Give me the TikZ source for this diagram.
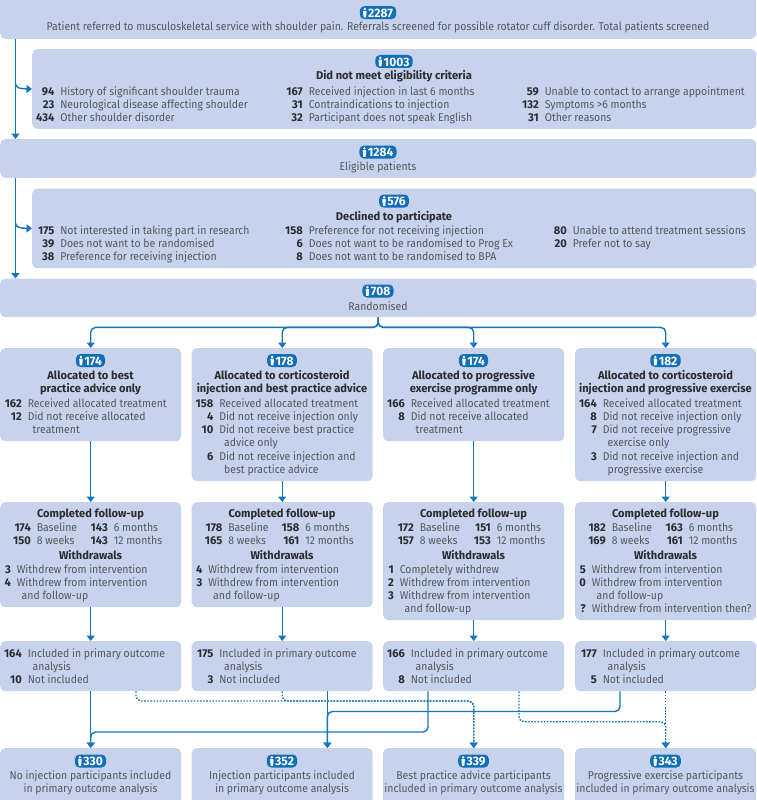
\documentclass[tikz,border=0pt]{standalone}
\usepackage{fontspec}
\setmainfont{Fira Sans}[FakeStretch=0.925,BoldFeatures={FakeStretch=0.985}]
\usetikzlibrary{arrows.meta,calc}
\definecolor{boxc}{HTML}{C7D3EC}
\definecolor{linec}{HTML}{1576BE}
\definecolor{badgec}{HTML}{0F6FB9}
\definecolor{txtc}{HTML}{55585E}
\definecolor{boldc}{HTML}{2A2C30}
\newcommand{\fsz}{\fontsize{11.3}{13}\selectfont}
\tikzset{
  boxst/.style={fill=boxc,draw=none,rounded corners=5pt,inner sep=0pt,anchor=north west},
  flow/.style={draw=linec,line width=1.4pt,-{Triangle[length=5.5pt,width=8pt]},rounded corners=5pt},
  dotflow/.style={flow,dash pattern=on 1.6pt off 1.5pt},
  plainlab/.style={inner sep=0pt,text=txtc,font=\fsz},
  numlab/.style={inner sep=0pt,text=boldc,font=\fsz\bfseries},
  badgest/.style={fill=badgec,text=white,rounded corners=4.5pt,inner xsep=3.2pt,inner ysep=0pt,minimum height=13pt,font=\fontsize{12.2}{13}\selectfont\bfseries,anchor=center},
}
\newcommand{\personicon}{\tikz[x=1pt,y=1pt,baseline=0pt]{\fill[white] (0,8.4) circle (1.35);\fill[white,rounded corners=0.5pt] (-1.8,6.6) -- (1.8,6.6) -- (1.2,-0.2) -- (-1.2,-0.2) -- cycle;}}
\newcount\tnum
\newcommand{\tid}{\global\advance\tnum by 1 }
\newcommand{\bx}[5]{\node[boxst,minimum width={#4pt-#2pt},minimum height={#5pt-#3pt}] (#1) at (#2,#3) {};}
\newcommand{\bdg}[3]{\tid\node[badgest] (t\the\tnum) at (#1,#2) {\personicon\hspace{1.6pt}#3};}
\newcommand{\ctxt}[3]{\tid\node[plainlab,anchor=base] (t\the\tnum) at (#1,#2) {#3};}
\newcommand{\cbold}[3]{\tid\node[numlab,anchor=base] (t\the\tnum) at (#1,#2) {#3};}
\newcommand{\ltxt}[3]{\tid\node[plainlab,anchor=base west] (t\the\tnum) at (#1,#2) {#3};}
% number right-aligned at x, label gap fixed
\newcommand{\nrow}[4]{\tid\node[numlab,anchor=base east] (t\the\tnum) at (#1,#2) {#3};\tid\node[plainlab,anchor=base west] (t\the\tnum) at ({#1+5.6},#2) {#4};}
% rows relative to a box's left edge
\newcommand{\arow}[4]{\nrow{#1+22}{#2}{#3}{#4}}
\newcommand{\acont}[3]{\ltxt{#1+32.5}{#2}{#3}}
\newcommand{\wrow}[4]{\nrow{#1+11}{#2}{#3}{#4}}
\newcommand{\wcont}[3]{\ltxt{#1+21.5}{#2}{#3}}
% completed follow-up block
\newcommand{\fup}[5]{%
  \cbold{#1+90.5}{517}{Completed follow-up}
  \nrow{#1+31}{531}{#2}{Baseline}
  \nrow{#1+108}{531}{#3}{6 months}
  \nrow{#1+31}{544}{#4}{8 weeks}
  \nrow{#1+108}{544}{#5}{12 months}
  \cbold{#1+90.5}{559}{Withdrawals}}
\begin{document}
\begin{tikzpicture}[x=1pt,y=-1pt]
\useasboundingbox (0,0) rectangle (756,800);
% main boxes
\bx{top}{0}{-6}{756}{38.6}
\bx{excl}{32}{49}{756}{128.6}
\bx{elig}{0}{139}{756}{177.6}
\bx{decl}{32}{188.4}{756}{268}
\bx{rand}{0}{278.5}{756}{317}
\bx{aa}{0}{348}{181}{441}
\bx{ab}{191.5}{348}{372.5}{481}
\bx{ac}{383}{348}{564}{441}
\bx{ad}{575}{348}{756}{481}
\bx{fa}{0}{502}{181}{607}
\bx{fb}{191.5}{502}{372.5}{607}
\bx{fc}{383}{502}{564}{620}
\bx{fd}{575}{502}{756}{620}
\bx{pa}{0}{641}{181}{691}
\bx{pb}{191.5}{641}{372.5}{691}
\bx{pc}{383}{641}{564}{691}
\bx{pd}{575}{641}{756}{691}
\bx{qa}{0}{748}{181}{806}
\bx{qb}{191.5}{748}{372.5}{806}
\bx{qc}{383}{748}{564}{806}
\bx{qd}{575}{748}{756}{806}
% connector guide coordinates
\coordinate (trunk) at (15.5,0);
\coordinate (ja) at (15.5,84);
\coordinate (jb) at (15.5,223.5);
\coordinate (sb) at (327.4,0);
\coordinate (vc) at (428,732);
\coordinate (vd) at (620,711.5);
\coordinate (da) at (136,701);
\coordinate (dc) at (519,721.7);
% trunk and side branches
\draw[flow] (top.south -| trunk) -- (elig.north -| trunk);
\draw[flow] (elig.south -| trunk) -- (rand.north -| trunk);
\draw[flow,rounded corners=0pt] (ja) .. controls (16.5,88) and (20,88.8) .. (excl.west);
\draw[flow,rounded corners=0pt] (jb) .. controls (16.5,227.5) and (20,228.2) .. (decl.west);
% randomisation
\draw[flow] (rand.south) -- ++(0,10) -| (aa.north);
\draw[flow] (rand.south) -- ++(0,10) -| (ab.north);
\draw[flow] (rand.south) -- ++(0,10) -| (ac.north);
\draw[flow] (rand.south) -- ++(0,10) -| (ad.north);
% down the arms
\draw[flow] (aa.south) -- (fa.north);
\draw[flow] (ab.south) -- (fb.north);
\draw[flow] (ac.south) -- (fc.north);
\draw[flow] (ad.south) -- (fd.north);
\draw[flow] (fa.south) -- (pa.north);
\draw[flow] (fb.south) -- (pb.north);
\draw[flow] (fc.south) -- (pc.north);
\draw[flow] (fd.south) -- (pd.north);
% dotted
\draw[dotflow] (pa.south -| da) -- (da) -- (da -| qc.north) -- (qc.north);
\draw[dotflow] (pb.south) -- (pb.south |- da) -- (da -| qc.north) -- (qc.north);
\draw[dotflow] (pc.south -| dc) -- (dc) -- (dc -| qd.north) -- (qd.north);
\draw[dotflow] (pd.south) -- (qd.north);
% solid to bottom
\draw[flow] (pa.south) -- (qa.north);
\draw[flow] (pb.south -| sb) -- (qb.north -| sb);
\draw[flow] (pc.south -| vc) -- (vc) -| (qa.north);
\draw[flow] (pd.south -| vd) -- (vd) -| (qb.north -| sb);
% top box
\bdg{378}{12.6}{2287}
\ctxt{378}{31}{Patient referred to musculoskeletal service with shoulder pain. Referrals screened for possible rotator cuff disorder. Total patients screened}
% exclusions
\bdg{394}{61.5}{1003}
\cbold{394}{80}{Did not meet eligibility criteria}
\nrow{54.5}{95}{94}{History of significant shoulder trauma}
\nrow{54.5}{108}{23}{Neurological disease affecting shoulder}
\nrow{54.5}{121}{434}{Other shoulder disorder}
\nrow{303}{95}{167}{Received injection in last 6 months}
\nrow{303}{108}{31}{Contraindications to injection}
\nrow{303}{121}{32}{Participant does not speak English}
\nrow{539}{95}{59}{Unable to contact to arrange appointment}
\nrow{539}{108}{132}{Symptoms >6 months}
\nrow{539}{121}{31}{Other reasons}
% eligible
\bdg{378}{152}{1284}
\ctxt{378}{170.5}{Eligible patients}
% declined
\bdg{394}{201}{576}
\cbold{394}{220}{Declined to participate}
\nrow{54.5}{234}{175}{Not interested in taking part in research}
\nrow{54.5}{247}{39}{Does not want to be randomised}
\nrow{54.5}{260}{38}{Preference for receiving injection}
\nrow{303}{234}{158}{Preference for not receiving injection}
\nrow{303}{247}{6}{Does not want to be randomised to Prog Ex}
\nrow{303}{260}{8}{Does not want to be randomised to BPA}
\nrow{567}{234}{80}{Unable to attend treatment sessions}
\nrow{567}{247}{20}{Prefer not to say}
% randomised
\bdg{378}{291}{708}
\ctxt{378}{310}{Randomised}
% allocation 1
\bdg{90.5}{360.5}{174}
\cbold{90.5}{379.5}{Allocated to best}
\cbold{90.5}{392.8}{practice advice only}
\arow{0}{407.5}{162}{Received allocated treatment}
\arow{0}{420.6}{12}{Did not receive allocated}
\acont{0}{433.7}{treatment}
% allocation 2
\bdg{282}{360.5}{178}
\cbold{282}{379.5}{Allocated to corticosteroid}
\cbold{282}{392.8}{injection and best practice advice}
\arow{191.5}{407.5}{158}{Received allocated treatment}
\arow{191.5}{420.6}{4}{Did not receive injection only}
\arow{191.5}{433.7}{10}{Did not receive best practice}
\acont{191.5}{446.8}{advice only}
\arow{191.5}{460}{6}{Did not receive injection and}
\acont{191.5}{473.1}{best practice advice}
% allocation 3
\bdg{473.5}{360.5}{174}
\cbold{473.5}{379.5}{Allocated to progressive}
\cbold{473.5}{392.8}{exercise programme only}
\arow{383}{407.5}{166}{Received allocated treatment}
\arow{383}{420.6}{8}{Did not receive allocated}
\acont{383}{433.7}{treatment}
% allocation 4
\bdg{665.5}{360.5}{182}
\cbold{665.5}{379.5}{Allocated to corticosteroid}
\cbold{665.5}{392.8}{injection and progressive exercise}
\arow{575}{407.5}{164}{Received allocated treatment}
\arow{575}{420.6}{8}{Did not receive injection only}
\arow{575}{433.7}{7}{Did not receive progressive}
\acont{575}{446.8}{exercise only}
\arow{575}{460}{3}{Did not receive injection and}
\acont{575}{473.1}{progressive exercise}
% follow-up
\fup{0}{174}{143}{150}{143}
\wrow{0}{573}{3}{Withdrew from intervention}
\wrow{0}{586}{4}{Withdrew from intervention}
\wcont{0}{599.2}{and follow-up}
\fup{191.5}{178}{158}{165}{161}
\wrow{191.5}{573}{4}{Withdrew from intervention}
\wrow{191.5}{586}{3}{Withdrew from intervention}
\wcont{191.5}{599.2}{and follow-up}
\fup{383}{172}{151}{157}{153}
\wrow{383}{573}{1}{Completely withdrew}
\wrow{383}{586}{2}{Withdrew from intervention}
\wrow{383}{599.2}{3}{Withdrew from intervention}
\wcont{383}{612.3}{and follow-up}
\fup{575}{182}{163}{169}{161}
\wrow{575}{573}{5}{Withdrew from intervention}
\wrow{575}{586}{0}{Withdrew from intervention}
\wcont{575}{599.2}{and follow-up}
\wrow{575}{612.3}{?}{Withdrew from intervention then?}
% primary
\arow{0}{657}{164}{Included in primary outcome}
\acont{0}{670}{analysis}
\arow{0}{683}{10}{Not included}
\arow{191.5}{657}{175}{Included in primary outcome}
\acont{191.5}{670}{analysis}
\arow{191.5}{683}{3}{Not included}
\arow{383}{657}{166}{Included in primary outcome}
\acont{383}{670}{analysis}
\arow{383}{683}{8}{Not included}
\arow{575}{657}{177}{Included in primary outcome}
\acont{575}{670}{analysis}
\arow{575}{683}{5}{Not included}
% bottom
\bdg{90.5}{761}{330}
\ctxt{90.5}{779}{No injection participants included}
\ctxt{90.5}{792.2}{in primary outcome analysis}
\bdg{282}{761}{352}
\ctxt{282}{779}{Injection participants included}
\ctxt{282}{792.2}{in primary outcome analysis}
\bdg{473.5}{761}{339}
\ctxt{473.5}{779}{Best practice advice participants}
\ctxt{473.5}{792.2}{included in primary outcome analysis}
\bdg{665.5}{761}{343}
\ctxt{665.5}{779}{Progressive exercise participants}
\ctxt{665.5}{792.2}{included in primary outcome analysis}
\end{tikzpicture}
\end{document}
